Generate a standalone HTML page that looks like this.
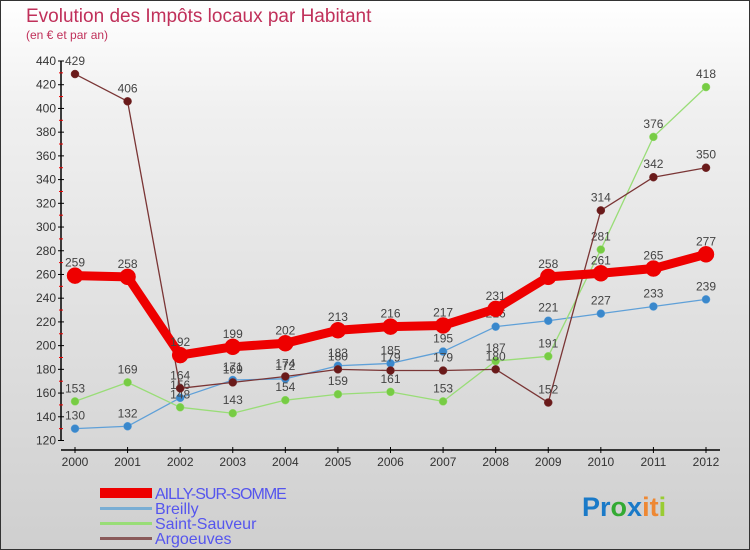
<!DOCTYPE html>
<html><head><meta charset="utf-8"><style>
body{margin:0;width:750px;height:550px;overflow:hidden}
#c{position:absolute;left:0;top:0;width:748px;height:548px;border:1px solid #333;background:linear-gradient(#fff,#f0f0f0 20%,#cfcfcf)}
text{font-family:"Liberation Sans",sans-serif}
</style></head><body>
<div id="c">
<svg id="s" width="750" height="550" style="position:absolute;left:-1px;top:-1px">
<text x="26" y="22" font-size="19" fill="#c0305a">Evolution des Impôts locaux par Habitant</text>
<text x="26" y="39" font-size="12" fill="#c0305a">(en € et par an)</text>
<g id="axes"></g><g id="series"></g>
<g font-size="16" fill="#5555ee">
<rect x="100" y="488" width="52" height="10" fill="#e00"/>
<text x="155" y="499" letter-spacing="-1">AILLY-SUR-SOMME</text>
<rect x="100" y="507" width="52" height="3" fill="#7aaed4"/>
<text x="155" y="514">Breilly</text>
<rect x="100" y="522" width="52" height="3" fill="#99dd77"/>
<text x="155" y="529">Saint-Sauveur</text>
<rect x="100" y="537" width="52" height="3" fill="#8a5a5a"/>
<text x="155" y="544">Argoeuves</text>
</g>
<text x="582" y="516" font-size="27" font-weight="bold"><tspan fill="#1a7ac8">Pr</tspan><tspan fill="#3a3">o</tspan><tspan fill="#1a7ac8">x</tspan><tspan fill="#e83">i</tspan><tspan fill="#e83">t</tspan><tspan fill="#9c3">i</tspan></text>
</svg></div>
<script>
const years=[2000,2001,2002,2003,2004,2005,2006,2007,2008,2009,2010,2011,2012];
const ailly=[259,258,192,199,202,213,216,217,231,258,261,265,277];
const breilly=[130,132,156,171,172,183,185,195,216,221,227,233,239];
const saintSauveur=[153,169,148,143,154,159,161,153,187,191,281,376,418];
const argoeuves=[429,406,164,169,174,180,179,179,180,152,314,342,350];
const yTicks=[120,140,160,180,200,220,240,260,280,300,320,340,360,380,400,420,440];
const NS="http://www.w3.org/2000/svg";
const X=i=>75+i*(706-75)/(years.length-1);
const Y=v=>440.5-(v-120)*(440.5-61)/320;
function mk(tag,attrs,parent){const e=document.createElementNS(NS,tag);for(const k in attrs)e.setAttribute(k,attrs[k]);parent.appendChild(e);return e;}
const ax=document.getElementById('axes');
let l=mk('line',{x1:61,y1:Y(440),x2:61,y2:Y(120),stroke:'#000','stroke-width':1.5},ax);


l=mk('line',{x1:61,y1:450,x2:720,y2:450,stroke:'#000','stroke-width':1.5},ax);


yTicks.forEach((v,i)=>{
  mk('line',{x1:58,y1:Y(v),x2:64,y2:Y(v),stroke:'#000'},ax);
  if(i<yTicks.length-1)mk('line',{x1:59,y1:Y(v+10),x2:63,y2:Y(v+10),stroke:'#e00'},ax);
  const t=mk('text',{x:56,y:Y(v)+4,'font-size':12,'text-anchor':'end',fill:'#333'},ax);t.textContent=v;
  
  
});
years.forEach((yr,i)=>{
  mk('line',{x1:X(i),y1:447,x2:X(i),y2:453,stroke:'#000'},ax);
  const t=mk('text',{x:X(i),y:466,'font-size':12,'text-anchor':'middle',fill:'#333'},ax);t.textContent=yr;
  
  
});
const sg=document.getElementById('series');
function draw(data,name,color,dot,w,r){
  const g=mk('g',{},sg);
  
  
  const p=mk('polyline',{points:data.map((v,i)=>X(i)+','+Y(v)).join(' '),fill:'none',stroke:color,'stroke-width':w,'stroke-linejoin':'round'},g);
  
  
  data.forEach((v,i)=>{
    const c=mk('circle',{cx:X(i),cy:Y(v),r:r,fill:dot,stroke:color,'stroke-width':0.5},g);
    
    
    const t=mk('text',{x:X(i),y:Y(v)-9,'font-size':12,'text-anchor':'middle',fill:'#444'},g);t.textContent=v;
    
    
  });
}
draw(breilly,'breilly','#5fa0d8','#3a88cc',1.3,4);
draw(saintSauveur,'saint-sauveur','#99dd77','#77cc44',1.3,4);
draw(argoeuves,'argoeuves','#7a3535','#6a1a1a',1.3,4);
draw(ailly,'ailly','#ee0000','#ee0000',9,8);
</script>
</body></html>
